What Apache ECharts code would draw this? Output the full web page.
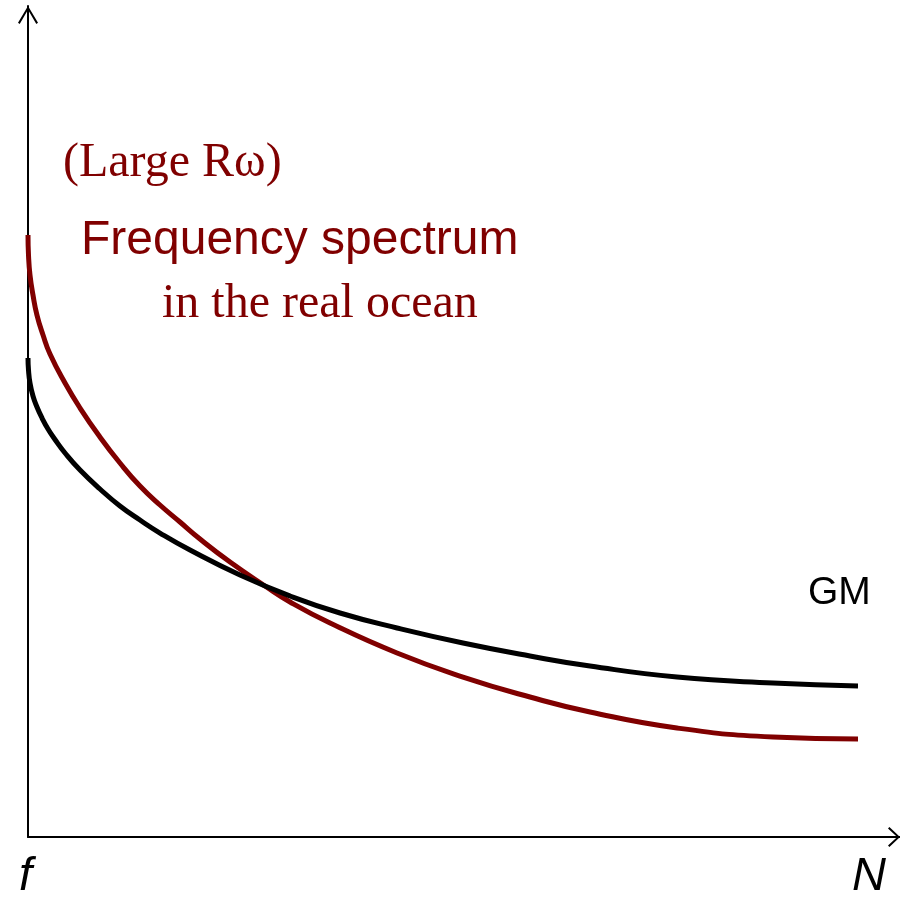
<!DOCTYPE html>
<html>
<head>
<meta charset="utf-8">
<script src="https://cdn.jsdelivr.net/npm/echarts@6/dist/echarts.min.js"></script>
<style>
html,body{margin:0;padding:0;background:#fff;}
#chart{width:900px;height:899px;}
</style>
</head>
<body>
<div id="chart"></div>
<script>
// Frequency (arbitrary units, f at 0, N at 100)
var realOceanX = [0, 0.06, 0.24, 0.60, 1.08, 1.81, 2.65, 4.46, 6.27, 8.67, 11.08, 13.49, 15.90, 18.31, 20.72, 24.34, 28.55, 31.57, 36.39, 44.46, 52.41, 60.48, 67.71, 78.19, 89.76, 100];
var realOceanY = [73.24, 70.80, 68.37, 65.94, 63.50, 61.07, 58.76, 55.23, 52.19, 48.66, 45.50, 42.70, 40.39, 38.32, 36.25, 33.45, 30.54, 28.59, 26.03, 22.38, 19.46, 17.03, 15.21, 13.26, 12.17, 11.92];
var gmX = [0, 0.06, 0.24, 0.60, 1.08, 1.69, 2.41, 3.25, 4.46, 6.27, 8.67, 11.08, 13.49, 15.90, 19.52, 25.54, 31.57, 37.59, 44.46, 52.41, 60.48, 67.71, 78.19, 89.76, 100];
var gmY = [58.27, 56.81, 55.23, 53.65, 52.31, 50.97, 49.64, 48.36, 46.72, 44.65, 42.34, 40.27, 38.56, 36.98, 34.91, 31.87, 29.32, 27.25, 25.43, 23.60, 22.02, 20.80, 19.46, 18.73, 18.37];
var axisLabels = { x0: 'f', xEnd: 'N' };
var texts = ['(Large R\u03C9)', 'Frequency spectrum', 'in the real ocean', 'GM'];

var DARKRED = '#800000';
function pairs(xs, ys){ return xs.map(function(x,i){ return [x, ys[i]]; }); }

var chart = echarts.init(document.getElementById('chart'), null, {renderer:'canvas'});
var option = {
  animation: false,
  backgroundColor: '#ffffff',
  grid: { left: 28, right: 0, top: 6, bottom: 62, containLabel: false },
  xAxis: {
    type: 'value', min: 0, max: 105.06,
    axisLine: { show: true, lineStyle: { color: '#000', width: 2 },
      symbol: ['none', 'path://M10,0L20,10.6L18.6,12L10,2.8L1.4,12L0,10.6Z'],
      symbolSize: [20, 12], symbolOffset: [0, -6] },
    axisTick: { show: false }, axisLabel: { show: false }, splitLine: { show: false }
  },
  yAxis: {
    type: 'value', min: 0, max: 101.1,
    axisLine: { show: true, lineStyle: { color: '#000', width: 2 },
      symbol: ['none', 'path://M10,0L20,16.8L18.3,18L10,3.8L1.7,18L0,16.8Z'],
      symbolSize: [20, 18], symbolOffset: [0, -9] },
    axisTick: { show: false }, axisLabel: { show: false }, splitLine: { show: false }
  },
  series: [
    { type: 'line', name: 'real ocean', data: pairs(realOceanX, realOceanY), smooth: 0.5,
      showSymbol: false, lineStyle: { color: DARKRED, width: 5 }, z: 2 },
    { type: 'line', name: 'GM', data: pairs(gmX, gmY), smooth: 0.5,
      showSymbol: false, lineStyle: { color: '#000', width: 5 }, z: 3 }
  ],
  graphic: [
    { type: 'text', x: 63, y: 163.8, style: { text: texts[0], font: '48px "Liberation Serif"', fill: DARKRED, textAlign: 'left', textVerticalAlign: 'middle' } },
    { type: 'text', x: 81, y: 240.4, style: { text: texts[1], font: '48px "Liberation Sans"', fill: DARKRED, textAlign: 'left', textVerticalAlign: 'middle' } },
    { type: 'text', x: 162, y: 304.8, style: { text: texts[2], font: '48px "Liberation Serif"', fill: DARKRED, textAlign: 'left', textVerticalAlign: 'middle' } },
    { type: 'text', x: 808, y: 593.5, style: { text: texts[3], font: '39px "Liberation Sans"', fill: '#000', textAlign: 'left', textVerticalAlign: 'middle' } },
    { type: 'text', x: 19, y: 876.7, style: { text: axisLabels.x0, font: 'italic 47px "Liberation Sans"', fill: '#000', textAlign: 'left', textVerticalAlign: 'middle' } },
    { type: 'text', x: 852, y: 876.7, style: { text: axisLabels.xEnd, font: 'italic 47px "Liberation Sans"', fill: '#000', textAlign: 'left', textVerticalAlign: 'middle' } }
  ]
};
chart.setOption(option);
</script>
</body>
</html>
